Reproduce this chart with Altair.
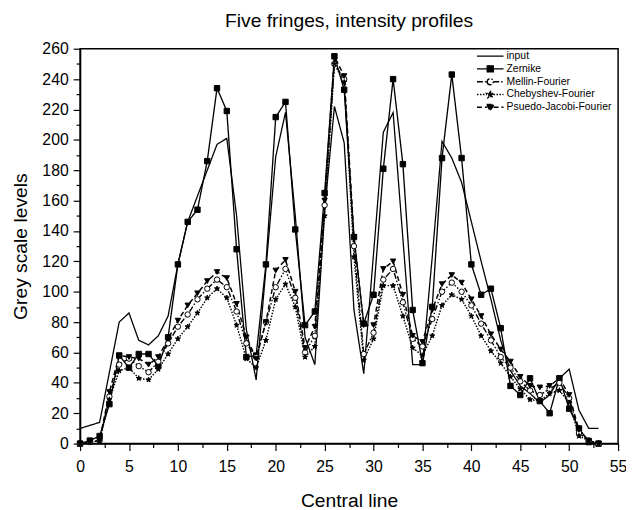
import altair as alt
import pandas as pd

# ---------------- data ----------------
x_vals = list(range(54))
series_names = ["input", "Zernike", "Mellin-Fourier", "Chebyshev-Fourier", "Psuedo-Jacobi-Fourier"]

input_vals = [10, 12, 14, 47, 80, 86, 68, 65, 71, 84, 118, 146, 163, 180, 197, 201, 150, 75, 42, 115,
              189, 218, 150, 70, 52, 153, 222, 198, 88, 46, 125, 205, 218, 135, 52, 52, 123, 199, 188, 172,
              146, 120, 95, 68, 48, 38, 33, 27, 32, 43, 49, 22, 10, 10]
zernike_vals = [0, 2, 5, 26, 58, 50, 59, 59, 51, 70, 118, 146, 154, 186, 234, 219, 128, 57, 58, 118,
                215, 225, 141, 78, 87, 165, 255, 233, 136, 79, 98, 181, 240, 184, 88, 53, 90, 188, 243, 188,
                118, 98, 102, 76, 38, 32, 43, 28, 20, 43, 23, 10, 1, 0]
mellin_vals = [0, 1, 2, 31, 52, 56, 51, 47, 54, 66, 77, 85, 95, 102, 108, 103, 87, 66, 57, 80,
               103, 115, 96, 60, 71, 157, 250, 240, 130, 59, 73, 108, 115, 93, 69, 64, 82, 100, 106, 100,
               91, 79, 68, 57, 50, 41, 35, 32, 36, 40, 30, 7, 2, 0]
cheb_vals = [0, 1, 2, 29, 48, 50, 43, 42, 49, 59, 69, 77, 86, 96, 102, 96, 78, 56, 50, 68,
             95, 105, 90, 57, 64, 150, 250, 238, 123, 55, 69, 104, 104, 84, 63, 58, 71, 91, 98, 95,
             84, 71, 61, 53, 44, 36, 29, 28, 33, 35, 27, 5, 2, 0]
jacobi_vals = [0, 1, 2, 34, 58, 57, 56, 52, 57, 69, 81, 91, 99, 107, 113, 109, 92, 70, 56, 80,
               114, 121, 100, 63, 77, 160, 255, 242, 136, 78, 78, 115, 120, 98, 71, 67, 88, 105, 111, 106,
               95, 84, 72, 62, 54, 44, 38, 37, 38, 43, 32, 9, 2, 0]

x_tick_values = [i * 2.5 for i in range(23)]
y_tick_values = list(range(0, 261, 10))

# ---------------- table ----------------
rows = []
for name, vals in zip(series_names, [input_vals, zernike_vals, mellin_vals, cheb_vals, jacobi_vals]):
    for xi, v in zip(x_vals, vals):
        rows.append({"x": xi, "y": v, "series": name})
df = pd.DataFrame(rows)
df_pts = df[df["series"] != "input"]

FONT = "Liberation Sans"

# ---------------- styles ----------------
dash_range = [[1, 0], [1, 0], [6, 2, 1.5, 2, 1.5, 2], [1.5, 1.5], [5, 3]]
width_range = [1.3, 1.5, 1, 1, 1]

STAR = ("M0,-1L0.235,-0.324L0.951,-0.309L0.38,0.124L0.588,0.809L0,0.4L-0.588,0.809"
        "L-0.38,0.124L-0.951,-0.309L-0.235,-0.324Z")
marker_names = series_names[1:]
marker_shapes = ["square", "circle", STAR, "triangle-down"]
marker_fills = ["black", "white", "black", "black"]

legend_paths = {
    "input": "M-1,0H1",
    "Zernike": "M-1,0H-0.23M0.23,0H1M-0.23,-0.23H0.23V0.23H-0.23Z",
    "Mellin-Fourier": "M-1,0H-0.23M0.23,0H1M-0.23,0A0.23,0.23 0 1,0 0.23,0A0.23,0.23 0 1,0 -0.23,0Z",
    "Chebyshev-Fourier": ("M-1,0H-0.25M0.25,0H1M0,-0.28L0.066,-0.091L0.266,-0.087L0.106,0.035"
                          "L0.165,0.227L0,0.112L-0.165,0.227L-0.106,0.035L-0.266,-0.087L-0.066,-0.091Z"),
    "Psuedo-Jacobi-Fourier": "M-1,0H-0.25M0.25,0H1M-0.27,-0.22L0.27,-0.22L0,0.26Z",
}
shape_expr = ""
for name in series_names[:-1]:
    shape_expr += f"datum.value === '{name}' ? '{legend_paths[name]}' : "
shape_expr += f"'{legend_paths[series_names[-1]]}'"
fill_expr = ("datum.value === 'Mellin-Fourier' ? 'white' : "
             "(datum.value === 'input' ? 'transparent' : 'black')")

x_scale = alt.Scale(domain=[0, 55], nice=False, zero=False)
y_scale = alt.Scale(domain=[0, 260], nice=False)

x_axis = alt.Axis(
    values=x_tick_values,
    labelExpr="datum.value % 5 === 0 ? datum.label : ''",
    tickSize={"condition": {"test": "datum.value % 5 === 0", "value": 7}, "value": 4},
    labelOverlap=False, labelFlush=False, labelPadding=8, titlePadding=18,
)
y_axis = alt.Axis(
    values=y_tick_values,
    labelExpr="datum.value % 20 === 0 ? datum.label : ''",
    tickSize={"condition": {"test": "datum.value % 20 === 0", "value": 7}, "value": 4},
    labelOverlap=False, labelFlush=False, labelPadding=5, titlePadding=12,
)

X = alt.X("x:Q", scale=x_scale, axis=x_axis, title="Central line")
Y = alt.Y("y:Q", scale=y_scale, axis=y_axis, title="Grey scale levels")

lines = alt.Chart(df).mark_line(color="black").encode(
    x=X,
    y=Y,
    strokeDash=alt.StrokeDash(
        "series:N",
        scale=alt.Scale(domain=series_names, range=dash_range),
        legend=alt.Legend(
            title=None, orient="none", legendX=401, legendY=1,
            symbolType=alt.ExprRef(expr=shape_expr),
            symbolFillColor=alt.ExprRef(expr=fill_expr),
            symbolStrokeColor="black", symbolStrokeWidth=1, symbolSize=720,
            clipHeight=12.8, labelFontSize=10.5, labelFont=FONT, labelColor="black",
            labelOffset=2, padding=0, rowPadding=0,
        ),
    ),
    strokeWidth=alt.StrokeWidth(
        "series:N", scale=alt.Scale(domain=series_names, range=width_range), legend=None
    ),
)

points = alt.Chart(df_pts).mark_point(stroke="black", strokeWidth=1, opacity=1, size=30).encode(
    x=X,
    y=Y,
    shape=alt.Shape("series:N", scale=alt.Scale(domain=marker_names, range=marker_shapes), legend=None),
    fill=alt.Fill("series:N", scale=alt.Scale(domain=marker_names, range=marker_fills), legend=None),
)

chart = (
    alt.layer(lines, points)
    .properties(
        width=545, height=400,
        title=alt.Title("Five fringes, intensity profiles", fontSize=19.5, font=FONT,
                        fontWeight="normal", color="black", anchor="middle", offset=10),
        autosize=alt.AutoSizeParams(type="none"),
        padding={"left": 73, "top": 38, "right": 8, "bottom": 64},
        background="white",
    )
    .configure_view(stroke="black", strokeWidth=1.5)
    .configure_axis(
        domainColor="black", domainWidth=1.5, tickColor="black", tickWidth=1.2,
        labelColor="black", titleColor="black", labelFont=FONT, titleFont=FONT,
        labelFontSize=16, titleFontSize=19.5, titleFontWeight="normal", grid=False,
    )
)

chart.save("out.html", embed_options={"renderer": "svg", "actions": False})
